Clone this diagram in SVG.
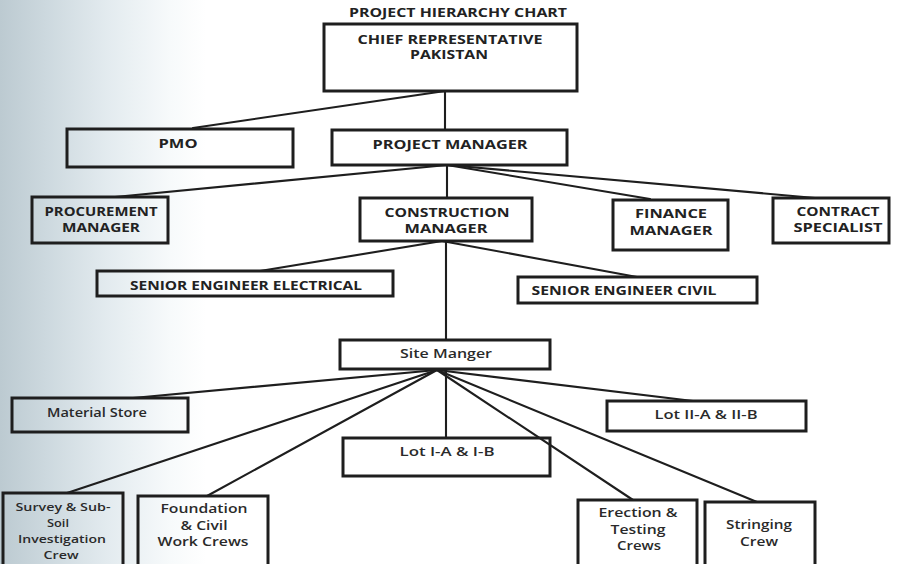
<svg xmlns="http://www.w3.org/2000/svg" width="897" height="564" viewBox="0 0 897 564">
<defs>
<linearGradient id="bg" x1="0" y1="0" x2="1" y2="0">
<stop offset="0" stop-color="#bccad1"/>
<stop offset="0.05" stop-color="#ccd8de"/>
<stop offset="0.12" stop-color="#e3ebef"/>
<stop offset="0.19" stop-color="#f7fafb"/>
<stop offset="0.23" stop-color="#ffffff"/>
<stop offset="1" stop-color="#ffffff"/>
</linearGradient>
<style>
.box{fill:none;stroke:#1e1e1e;stroke-width:3}
.ln{stroke:#1e1e1e;stroke-width:2.1;fill:none;stroke-linecap:round}
.t{font-family:"Open Sans","Liberation Sans",sans-serif;font-weight:bold;font-size:12px;fill:#222;text-anchor:middle}
.m{font-family:"Open Sans","Liberation Sans",sans-serif;font-weight:600;font-size:12px;fill:#2a2a2a;text-anchor:middle}
.s{font-size:11.5px}
</style>
</defs>
<rect x="0" y="0" width="897" height="564" fill="url(#bg)"/>
<text class="t" x="458" y="17" font-size="11" textLength="218" lengthAdjust="spacingAndGlyphs">PROJECT HIERARCHY CHART</text>

<g id="connectors">
<line class="ln" x1="445" y1="91" x2="445" y2="130"/>
<line class="ln" x1="445" y1="91" x2="193" y2="128"/>
<line class="ln" x1="447" y1="165" x2="115" y2="197"/>
<line class="ln" x1="447" y1="165" x2="447" y2="198"/>
<line class="ln" x1="447" y1="165" x2="650" y2="199"/>
<line class="ln" x1="447" y1="165" x2="815" y2="198"/>
<line class="ln" x1="446" y1="241" x2="446" y2="340"/>
<line class="ln" x1="442" y1="241" x2="260" y2="271"/>
<line class="ln" x1="442" y1="241" x2="637" y2="277"/>
<line class="ln" x1="446" y1="369" x2="446" y2="438"/>
<line class="ln" x1="437" y1="370" x2="133" y2="398"/>
<line class="ln" x1="437" y1="370" x2="67" y2="493"/>
<line class="ln" x1="437" y1="370" x2="207" y2="496"/>
<line class="ln" x1="437" y1="370" x2="693" y2="401"/>
<line class="ln" x1="437" y1="370" x2="633" y2="500"/>
<line class="ln" x1="437" y1="370" x2="757" y2="502"/>
</g>

<g id="chief">
<rect class="box" x="324" y="24" width="253" height="67"/>
<text class="t s" x="450" y="44" textLength="185" lengthAdjust="spacingAndGlyphs">CHIEF REPRESENTATIVE</text>
<text class="t s" x="449" y="59" textLength="78" lengthAdjust="spacingAndGlyphs">PAKISTAN</text>
</g>
<g id="pmo">
<rect class="box" x="67" y="129" width="226" height="38"/>
<text class="t" x="178" y="148" textLength="39" lengthAdjust="spacingAndGlyphs">PMO</text>
</g>
<g id="pm">
<rect class="box" x="332" y="130" width="235" height="35"/>
<text class="t" x="450" y="149" textLength="155" lengthAdjust="spacingAndGlyphs">PROJECT MANAGER</text>
</g>
<g id="procurement">
<rect class="box" x="32" y="197" width="136" height="46"/>
<text class="t s" x="101" y="216" textLength="113" lengthAdjust="spacingAndGlyphs">PROCUREMENT</text>
<text class="t s" x="101" y="232" textLength="78" lengthAdjust="spacingAndGlyphs">MANAGER</text>
</g>
<g id="construction">
<rect class="box" x="360" y="198" width="172" height="43"/>
<text class="t" x="447" y="217" textLength="125" lengthAdjust="spacingAndGlyphs">CONSTRUCTION</text>
<text class="t" x="446" y="233" textLength="83" lengthAdjust="spacingAndGlyphs">MANAGER</text>
</g>
<g id="finance">
<rect class="box" x="613" y="200" width="115" height="50"/>
<text class="t" x="671" y="218" textLength="72" lengthAdjust="spacingAndGlyphs">FINANCE</text>
<text class="t" x="671" y="235" textLength="83" lengthAdjust="spacingAndGlyphs">MANAGER</text>
</g>
<g id="contract">
<rect class="box" x="773" y="198" width="116" height="45"/>
<text class="t" x="838" y="216" textLength="83" lengthAdjust="spacingAndGlyphs">CONTRACT</text>
<text class="t" x="838" y="232" textLength="89" lengthAdjust="spacingAndGlyphs">SPECIALIST</text>
</g>
<g id="see">
<rect class="box" x="97" y="271" width="296" height="25"/>
<text class="t" x="246" y="290" textLength="232" lengthAdjust="spacingAndGlyphs">SENIOR ENGINEER ELECTRICAL</text>
</g>
<g id="sec">
<rect class="box" x="518" y="277" width="239" height="26"/>
<text class="t" x="624" y="295" textLength="185" lengthAdjust="spacingAndGlyphs">SENIOR ENGINEER CIVIL</text>
</g>
<g id="site">
<rect class="box" x="340" y="340" width="210" height="29"/>
<text class="m" x="446" y="358" textLength="92" lengthAdjust="spacingAndGlyphs">Site Manger</text>
</g>
<g id="material">
<rect class="box" x="12" y="398" width="176" height="34"/>
<text class="m" x="97" y="417" textLength="100" lengthAdjust="spacingAndGlyphs">Material Store</text>
</g>
<g id="lot1">
<rect class="box" x="343" y="438" width="207" height="38"/>
<text class="m" x="447" y="456" textLength="95" lengthAdjust="spacingAndGlyphs">Lot I-A &amp; I-B</text>
</g>
<g id="lot2">
<rect class="box" x="607" y="401" width="199" height="30"/>
<text class="m" x="706" y="419" textLength="103" lengthAdjust="spacingAndGlyphs">Lot II-A &amp; II-B</text>
</g>
<g id="survey">
<rect class="box" x="3" y="493" width="120" height="75"/>
<text class="m s" x="63" y="511" textLength="95" lengthAdjust="spacingAndGlyphs">Survey &amp; Sub-</text>
<text class="m s" x="58" y="527" textLength="22" lengthAdjust="spacingAndGlyphs">Soil</text>
<text class="m s" x="62" y="543" textLength="88" lengthAdjust="spacingAndGlyphs">Investigation</text>
<text class="m s" x="61" y="559" textLength="35" lengthAdjust="spacingAndGlyphs">Crew</text>
</g>
<g id="foundation">
<rect class="box" x="138" y="496" width="130" height="72"/>
<text class="m" x="204" y="513" textLength="87" lengthAdjust="spacingAndGlyphs">Foundation</text>
<text class="m" x="204" y="530" textLength="47" lengthAdjust="spacingAndGlyphs">&amp; Civil</text>
<text class="m" x="203" y="546" textLength="91" lengthAdjust="spacingAndGlyphs">Work Crews</text>
</g>
<g id="erection">
<rect class="box" x="578" y="500" width="119" height="68"/>
<text class="m" x="638" y="517" textLength="79" lengthAdjust="spacingAndGlyphs">Erection &amp;</text>
<text class="m" x="638" y="534" textLength="55" lengthAdjust="spacingAndGlyphs">Testing</text>
<text class="m" x="639" y="550" textLength="44" lengthAdjust="spacingAndGlyphs">Crews</text>
</g>
<g id="stringing">
<rect class="box" x="705" y="502" width="110" height="66"/>
<text class="m" x="759" y="529" textLength="66" lengthAdjust="spacingAndGlyphs">Stringing</text>
<text class="m" x="759" y="546" textLength="38" lengthAdjust="spacingAndGlyphs">Crew</text>
</g>
</svg>
